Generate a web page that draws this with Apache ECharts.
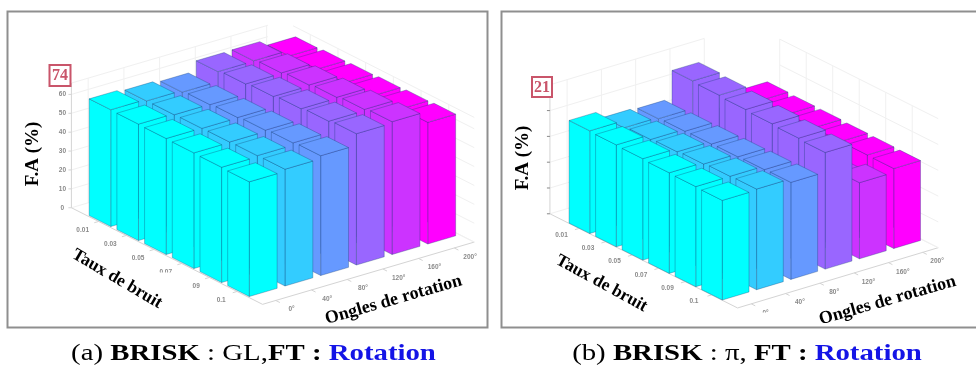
<!DOCTYPE html>
<html><head><meta charset="utf-8">
<style>html,body{margin:0;padding:0;background:#fff;overflow:hidden}#c{width:976px;height:368px}#c canvas:first-child{filter:blur(0.6px)}</style>
<script src="https://cdn.jsdelivr.net/npm/echarts@6/dist/echarts.min.js"></script>
</head><body><div id="c"></div>
<script>
const noiseLabels = ['0.01','0.03','0.05','0.07','0.09','0.1'];
const angleLabels = ['0°','40°','80°','120°','160°','200°'];
const zTicksA = [0,10,20,30,40,50,60];
const zTicksB = [0,10,20,30,40];
const columnColors = ['#00ffff','#33ccff','#6699ff','#9966ff','#cc33ff','#ff00ff'];
const valuesA = [
  [61.8,60.9,60.0,65.3,65.5,62.5],
  [61.6,61.0,60.8,66.2,66.5,62.9],
  [61.4,61.2,61.4,67.0,67.5,63.2],
  [61.2,61.4,62.1,67.9,68.4,63.6],
  [61.0,61.6,62.8,68.7,69.4,64.0],
  [60.7,61.8,63.4,69.5,70.3,64.4]
];
const valuesB = [
  [39.8,37.0,36.5,47.2,27.0,31.7],
  [39.5,37.6,36.8,46.8,27.0,31.5],
  [39.3,38.0,37.0,46.4,27.0,31.4],
  [39.0,38.4,37.2,46.0,27.0,31.2],
  [38.8,38.8,37.4,45.6,27.0,31.1],
  [38.6,39.0,37.6,45.2,29.5,31.0]
];

const panelA = {o:[82.2,215.2],ax:[35.7,-10.5],ay:[27.7,14.0],kz:1.889,
  xr:[0.07,6.0],yr:[-0.48,6.42],ztop:66,wallEndX:5.57,wallStartY:-0.12,wallCols:6,
  wallX:0.54,wallY:0.5,nl:[-0.53,0.70],al:[0.41,7.03],zl:-9,zt:true};
const panelB = {o:[562.4,222.8],ax:[34.3,-10.3],ay:[26.5,13.3],kz:2.58,
  xr:[0.1,5.95],yr:[-0.6,6.48],ztop:50,wallEndX:4.6,wallStartY:0.5,wallCols:5,
  wallX:0.6,wallY:0.5,nl:[-0.46,0.56],al:[0.43,7.11],zl:-9,zt:false};

function proj(p,X,Y,z){return [p.o[0]+X*p.ax[0]+Y*p.ay[0], p.o[1]+X*p.ax[1]+Y*p.ay[1]-z*p.kz];}

function frameItem(p,zTicks){
  return function(params,api){
    const pt=(X,Y,z)=>api.coord(proj(p,X,Y,z));
    const ch=[];
    const line=(a,b,c,w)=>ch.push({type:'line',shape:{x1:a[0],y1:a[1],x2:b[0],y2:b[1]},style:{stroke:c,lineWidth:w||1}});
    const [x0,x1]=p.xr,[y0,y1]=p.yr;
    const wall='#f0f0f0', edge='#d4d4d4', lab='#8a8a8a', font='bold 6.5px "Liberation Sans", Arial';
    zTicks.forEach(t=>{
      line(pt(x0,y0,t),pt(p.wallEndX,y0,t),wall);
      line(pt(x1,p.wallStartY,t),pt(x1,y1,t),wall);
    });
    line(pt(x0,y0,p.ztop),pt(p.wallEndX,y0,p.ztop),wall);
    line(pt(x1,p.wallStartY,p.ztop),pt(x1,y1,p.ztop),wall);
    for(let c=0;c<p.wallCols;c++) line(pt(c+p.wallX,y0,0),pt(c+p.wallX,y0,p.ztop),wall);
    for(let r=0;r<6;r++) line(pt(x1,r+p.wallY,0),pt(x1,r+p.wallY,p.ztop),wall);
    line(pt(x0,y0,0),pt(x0,y1,0),edge);
    line(pt(x0,y1,0),pt(x1,y1,0),edge);
    line(pt(x1,y1,0),pt(x1,y0,0),wall);
    line(pt(x0,y0,0),pt(x0,y0,p.ztop),edge);
    for(let r=0;r<6;r++){
      line(pt(x0,r+p.wallY,0),pt(x0-0.12,r+p.wallY,0),edge);
      const q=pt(p.nl[0],r+p.nl[1],0);
      ch.push({type:'text',x:q[0],y:q[1],style:{text:noiseLabels[r],font,fill:lab,align:'center',verticalAlign:'middle'}});
    }
    for(let c=0;c<6;c++){
      line(pt(c+p.wallX-0.1,y1,0),pt(c+p.wallX-0.1,y1+0.15,0),edge);
      const q=pt(c+p.al[0],p.al[1],0);
      ch.push({type:'text',x:q[0],y:q[1],style:{text:angleLabels[c],font,fill:lab,align:'center',verticalAlign:'middle'}});
    }
    zTicks.forEach(t=>{
      const a=pt(x0,y0,t);
      line([a[0],a[1]],[a[0]-3,a[1]],p.zt?edge:'#888');
      if(p.zt) ch.push({type:'text',x:a[0]+p.zl,y:a[1],style:{text:String(t),font,fill:lab,align:'center',verticalAlign:'middle'}});
    });
    return {type:'group',children:ch};
  };
}

function barItem(p){
  const W0=0.11,W1=0.89;
  return function(params,api){
    const r=api.value(0),c=api.value(1),v=api.value(2);
    const P=(X,Y,z)=>api.coord(proj(p,X,Y,z));
    const xa=c+W0,xb=c+W1,ya=r+W0,yb=r+W1;
    const st={fill:columnColors[c],stroke:'rgba(20,60,110,0.4)',lineWidth:0.8};
    return {type:'group',children:[
      {type:'polygon',shape:{points:[P(xa,yb,0),P(xb,yb,0),P(xb,yb,v),P(xa,yb,v)]},style:st},
      {type:'polygon',shape:{points:[P(xa,ya,0),P(xa,yb,0),P(xa,yb,v),P(xa,ya,v)]},style:st},
      {type:'polygon',shape:{points:[P(xa,ya,v),P(xb,ya,v),P(xb,yb,v),P(xa,yb,v)]},style:st}
    ]};
  };
}

function barData(values){
  const out=[];
  for(let r=0;r<6;r++) for(let c=5;c>=0;c--) out.push([r,c,values[r][c]]);
  return out;
}

const serif='"Liberation Serif","Times New Roman",serif';
const L=1;
function axisTitle(text,x,y,rot,size){
  return {type:'text',zlevel:L,x,y,rotation:rot,z:100,style:{text,font:'bold '+size+'px '+serif,fill:'#000',align:'center',verticalAlign:'middle'}};
}
function badge(text,x,y,w,h){
  return [
   {type:'rect',zlevel:L,z:101,shape:{x,y,width:w,height:h},style:{fill:'#fff',stroke:'#c9556a',lineWidth:2}},
   {type:'text',zlevel:L,z:102,x:x+w/2,y:y+h/2+0.5,style:{text,font:'bold 16px '+serif,fill:'#c9556a',align:'center',verticalAlign:'middle'}}
  ];
}
function caption(x,tag,mid,sep){
  const rich={r:{font:'24px '+serif,fill:'#000'},b:{font:'bold 24px '+serif,fill:'#000'},k:{font:'bold 24px '+serif,fill:'#1414e6'}};
  return {type:'text',zlevel:L,z:100,x,y:354,scaleX:1.2,style:{text:'{r|'+tag+' }{b|BRISK}{r| : '+mid+'}{b|'+sep+'FT : }{k|Rotation}',rich,align:'center',verticalAlign:'middle'}};
}
function mask(x,y,w,h){return {type:'rect',zlevel:L,z:98,shape:{x,y,width:w,height:h},style:{fill:'#fff'}};}

const frameColor='#8f8f8f';
const graphicEls=[
  {type:'rect',zlevel:L,z:99,shape:{x:7.5,y:11.5,width:480,height:316},style:{fill:'none',stroke:frameColor,lineWidth:2}},
  {type:'polyline',zlevel:L,z:99,shape:{points:[[976,11.5],[501.5,11.5],[501.5,327.5],[976,327.5]]},style:{fill:'none',stroke:frameColor,lineWidth:2}},
  mask(479.5,250,7,14),
  mask(150,272.5,30,7),
  mask(180,281,12,12),
  mask(322,301.5,18,6),
  mask(757,312.5,14,6),
  axisTitle('F.A (%)',33.5,154,Math.PI/2,19),
  axisTitle('F.A (%)',523,158,Math.PI/2,19),
  axisTitle('Taux de bruit',117,279,-0.53,17.5),
  axisTitle('Taux de bruit',601.5,283.5,-0.5,17.5),
  axisTitle('Ongles de rotation',393.5,300,0.28,18),
  axisTitle('Ongles de rotation',887.5,300.5,0.28,18),
  ...badge('74',49.5,65,21,21),
  ...badge('21',532,77,20,20),
  caption(253.5,'(a)','GL,',''),
  caption(747,'(b)','π, ','')
];

const chart=echarts.init(document.getElementById('c'),null,{renderer:'canvas'});
chart.setOption({
  animation:false,
  backgroundColor:'#fff',
  grid:{left:0,right:0,top:0,bottom:0},
  xAxis:{type:'value',min:0,max:976,show:false},
  yAxis:{type:'value',min:0,max:368,inverse:true,show:false},
  series:[
    {type:'custom',silent:true,clip:false,z:1,data:[[0,0]],renderItem:frameItem(panelA,zTicksA)},
    {type:'custom',silent:true,clip:false,z:1,data:[[0,0]],renderItem:frameItem(panelB,zTicksB)},
    {type:'custom',silent:true,clip:false,z:2,data:barData(valuesA),renderItem:barItem(panelA)},
    {type:'custom',silent:true,clip:false,z:2,data:barData(valuesB),renderItem:barItem(panelB)}
  ],
  graphic:{elements:graphicEls}
});
</script></body></html>
